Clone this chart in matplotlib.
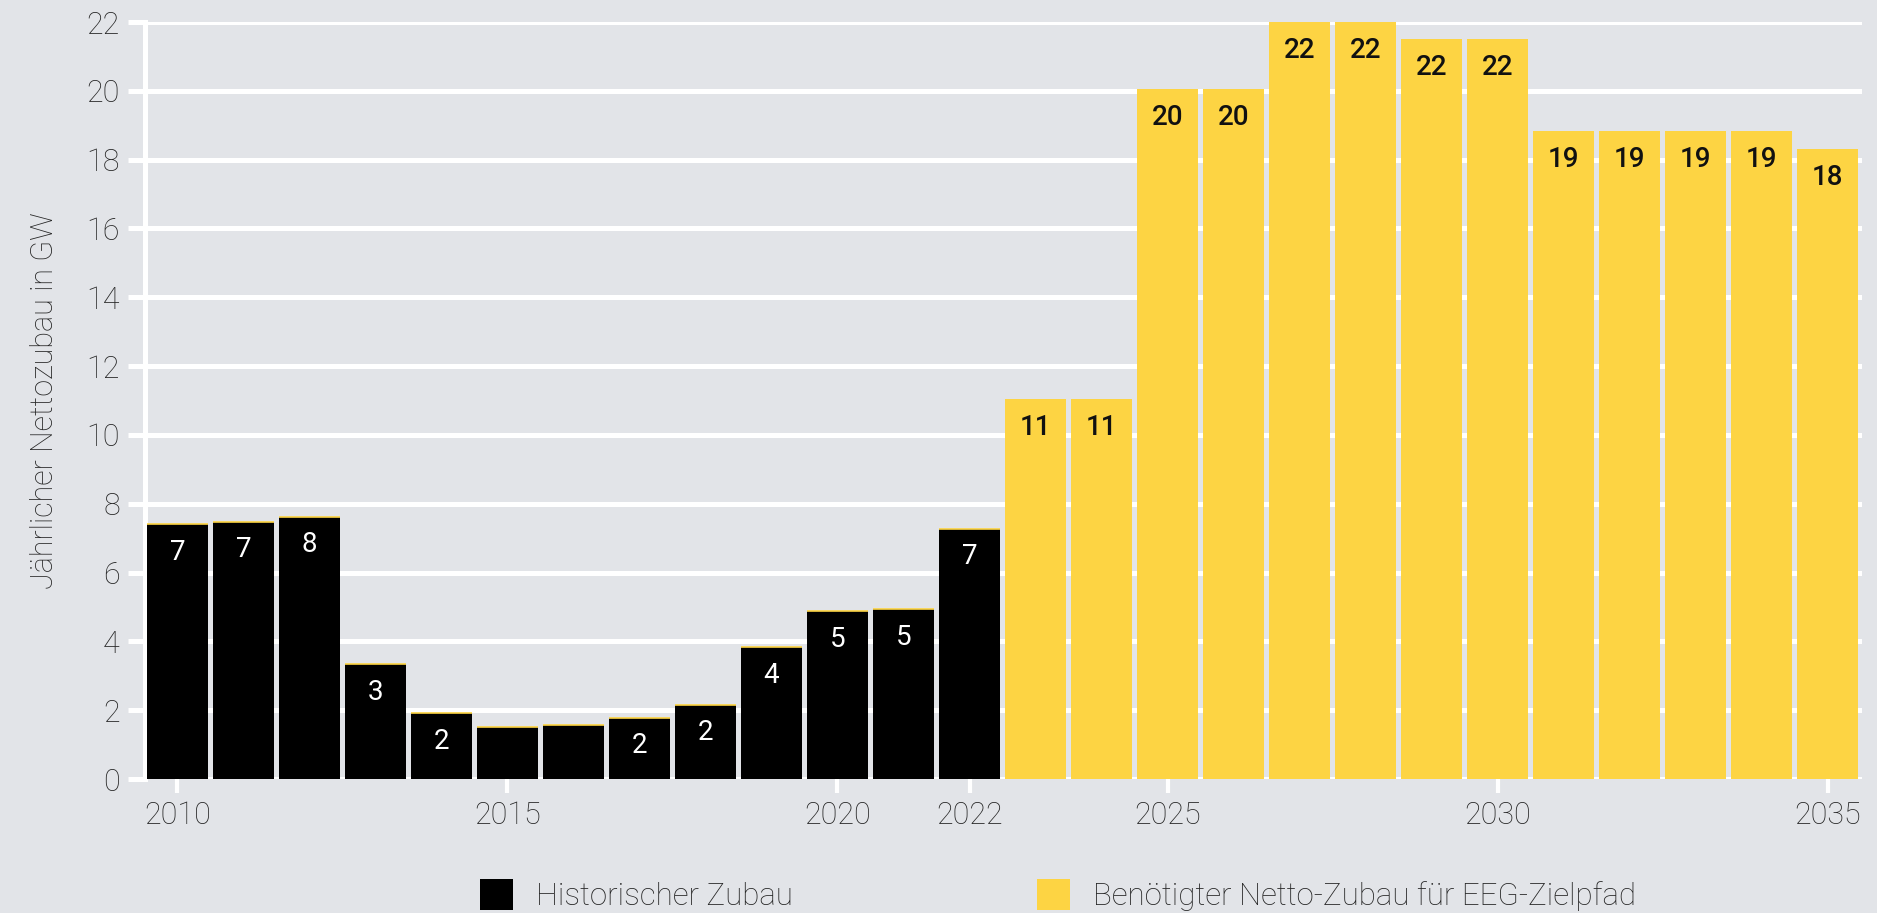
import matplotlib.pyplot as plt
from matplotlib.patches import Patch

# Jährlicher Nettozubau in GW
hist_years = list(range(2010, 2023))
hist_values = [7.41, 7.48, 7.62, 3.34, 1.91, 1.50, 1.57, 1.78, 2.16, 3.83, 4.87, 4.94, 7.27]
hist_labels = ['7', '7', '8', '3', '2', '', '', '2', '2', '4', '5', '5', '7']

goal_years = list(range(2023, 2036))
goal_values = [11.03, 11.03, 20.05, 20.05, 22.0, 22.0, 21.5, 21.5, 18.83, 18.83, 18.83, 18.83, 18.3]
goal_labels = ['11', '11', '20', '20', '22', '22', '22', '22', '19', '19', '19', '19', '18']

xticks = [2010, 2015, 2020, 2022, 2025, 2030, 2035]
yticks = list(range(0, 23, 2))

BG = '#e2e4e8'
YELLOW = '#fdd443'
TXT = '#262626'
FONT = ['Roboto', 'DejaVu Sans']

plt.rcParams['font.family'] = FONT

fig = plt.figure(figsize=(18.77, 9.13), dpi=100, facecolor=BG)
ax = fig.add_axes([145 / 1877, 1 - 779 / 913, (1862 - 145) / 1877, (779 - 22) / 913])
ax.set_facecolor(BG)

width = 0.925
ax.bar(hist_years, hist_values, width=width, color='black', zorder=3)
ax.bar(goal_years, goal_values, width=width, color=YELLOW, zorder=3)
# thin yellow rim on top of the black bars
ax.hlines(hist_values, [y - width / 2 for y in hist_years], [y + width / 2 for y in hist_years],
          color=YELLOW, lw=1.2, zorder=4)

for x, v, lab in zip(hist_years, hist_values, hist_labels):
    if lab:
        ax.annotate(lab, (x, v), xytext=(0, -28), textcoords='offset pixels',
                    ha='center', va='center', color='white', fontsize=20, zorder=5)
for x, v, lab in zip(goal_years, goal_values, goal_labels):
    ax.annotate(lab, (x, v), xytext=(0, -28), textcoords='offset pixels',
                ha='center', va='center', color='#111111', fontsize=20,
                fontweight='medium', zorder=5)

ax.set_xlim(2009.51, 2035.52)
ax.set_ylim(0, 22)
ax.set_yticks(yticks)
ax.set_xticks(xticks)

ax.grid(axis='y', color='white', lw=3.6, zorder=1)
ax.grid(axis='x', visible=False)
for side in ['top', 'right', 'bottom']:
    ax.spines[side].set_visible(False)
ax.spines['left'].set_color('white')
ax.spines['left'].set_linewidth(3.6)
ax.spines['left'].set_zorder(2)

ax.tick_params(axis='y', colors='white', length=12, width=3.6, pad=6,
               labelcolor=TXT, labelsize=22)
ax.tick_params(axis='x', colors='white', length=10, width=3, pad=6,
               labelcolor=TXT, labelsize=22)
for t in ax.get_xticklabels() + ax.get_yticklabels():
    t.set_fontweight('light')

ax.set_ylabel('Jährlicher Nettozubau in GW', fontsize=22, color=TXT,
              fontweight='light', labelpad=20)

handles = [Patch(facecolor='black', label='Historischer Zubau'),
           Patch(facecolor=YELLOW, label='Benötigter Netto-Zubau für EEG-Zielpfad')]
leg = fig.legend(handles=handles, loc='center left', bbox_to_anchor=(480 / 1877, 1 - 895 / 913),
                 ncol=2, frameon=False, fontsize=22.5, handlelength=1.05, handleheight=1.12,
                 handletextpad=0.75, columnspacing=7.8, borderaxespad=0, borderpad=0)
for t in leg.get_texts():
    t.set_color(TXT)
    t.set_fontweight('light')

fig.savefig('out.png', dpi=100, facecolor=BG)
